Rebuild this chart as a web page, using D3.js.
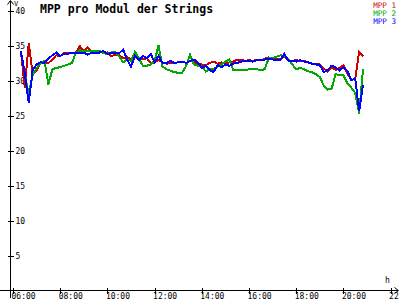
<!DOCTYPE html>
<html>
<head>
<meta charset="utf-8">
<script src="https://cdn.jsdelivr.net/npm/d3@7"></script>
<style>
  html, body { margin: 0; padding: 0; background: #fff; }
  svg { display: block; }
  text { font-family: "DejaVu Sans Mono", monospace; }
</style>
</head>
<body>
<svg id="chart" width="400" height="300"></svg>
<script>
// time stamps, every 10 minutes
const times = [
  "06:20","06:30","06:40","06:50",
  "07:00","07:10","07:20","07:30","07:40","07:50",
  "08:00","08:10","08:20","08:30","08:40","08:50",
  "09:00","09:10","09:20","09:30","09:40","09:50",
  "10:00","10:10","10:20","10:30","10:40","10:50",
  "11:00","11:10","11:20","11:30","11:40","11:50",
  "12:00","12:10","12:20","12:30","12:40","12:50",
  "13:00","13:10","13:20","13:30","13:40","13:50",
  "14:00","14:10","14:20","14:30","14:40","14:50",
  "15:00","15:10","15:20","15:30","15:40","15:50",
  "16:00","16:10","16:20","16:30","16:40","16:50",
  "17:00","17:10","17:20","17:30","17:40","17:50",
  "18:00","18:10","18:20","18:30","18:40","18:50",
  "19:00","19:10","19:20","19:30","19:40","19:50",
  "20:00","20:10","20:20","20:30","20:40","20:50"
];

// voltage per module (V)
const mpp1 = [34.2, 29.0, 35.3, 31.0, 31.4, 32.6, 32.4, 32.5, 33.0, 33.6,
  33.5, 33.9, 33.9, 34.0, 34.0, 34.9, 34.2, 34.7, 34.0, 34.0, 34.2, 33.9,
  34.0, 33.5, 33.7, 33.6, 33.2, 33.3, 33.1, 33.5, 33.3, 33.0, 33.2, 32.5,
  32.6, 32.9, 32.6, 32.4, 32.5, 32.5, 32.6, 32.7, 32.5, 32.8, 32.7, 32.4,
  32.3, 32.2, 32.5, 32.7, 32.4, 32.6, 32.4, 32.6, 32.7, 33.0, 33.0, 32.8,
  32.9, 32.8, 33.0, 32.9, 33.1, 33.3, 33.1, 33.0, 33.1, 33.4, 32.8, 32.8,
  32.9, 32.8, 32.8, 32.6, 32.4, 32.4, 32.3, 31.7, 31.3, 31.9, 31.5, 31.8,
  32.2, 31.0, 30.1, 30.2, 34.1, 33.5];

const mpp2 = [34.2, 31.0, 28.0, 30.8, 31.8, 32.4, 32.8, 29.4, 31.6, 31.8,
  31.9, 32.1, 32.3, 32.5, 34.0, 34.3, 34.2, 34.2, 34.2, 34.2, 34.2, 33.9,
  33.8, 34.0, 34.1, 33.4, 32.6, 33.0, 32.8, 34.1, 33.2, 32.1, 32.1, 32.3,
  32.8, 35.0, 32.0, 31.6, 31.4, 31.2, 31.1, 31.1, 32.1, 33.7, 32.3, 32.1,
  32.0, 31.3, 31.6, 31.6, 32.0, 32.3, 32.7, 33.0, 31.5, 31.5, 31.5, 31.5,
  31.6, 31.7, 31.6, 31.5, 31.6, 33.2, 33.2, 33.4, 33.6, 33.5, 33.1, 32.3,
  31.6, 31.8, 31.6, 31.3, 31.2, 30.9, 30.5, 29.3, 28.7, 28.8, 30.9, 30.8,
  30.8, 29.6, 29.0, 28.2, 25.3, 31.7];

const mpp3 = [34.2, 31.0, 26.8, 31.5, 32.3, 32.6, 32.5, 33.1, 33.6, 34.0,
  33.5, 33.8, 33.8, 34.0, 34.0, 34.0, 34.0, 33.7, 34.0, 34.0, 34.0, 34.2,
  33.8, 33.9, 33.9, 33.9, 34.4, 33.0, 32.0, 33.5, 32.9, 33.5, 33.2, 33.8,
  32.6, 33.5, 32.5, 32.5, 32.8, 32.5, 32.6, 32.7, 32.5, 32.8, 33.0, 32.6,
  31.8, 32.1, 31.5, 31.2, 32.2, 31.9, 32.3, 32.1, 32.4, 32.5, 32.7, 32.8,
  32.8, 32.7, 32.9, 32.9, 33.0, 33.1, 33.0, 32.9, 33.0, 33.8, 32.8, 32.8,
  32.7, 32.9, 32.7, 32.6, 32.4, 32.3, 32.2, 31.2, 31.5, 32.1, 31.9, 31.4,
  31.9, 31.4, 30.0, 30.3, 25.6, 29.4];

const seriesNames = ["MPP 1", "MPP 2", "MPP 3"];
const seriesColors = ["#cc0000", "#00a800", "#0000ff"];
const xTicks = [6, 8, 10, 12, 14, 16, 18, 20, 22];
const yTicks = [5, 10, 15, 20, 25, 30, 35, 40];

// "HH:MM" -> hours as number
function toHours(s) {
    const [h, m] = s.split(":").map(Number);
    return h + m / 60;
}

function pad(n) {
    return (n < 10 ? "0" : "") + n;
}

const svg = d3.select("#chart");

const x = d3.scaleLinear().domain([6, 22]).range([13, 390.6]);
const y = d3.scaleLinear().domain([0, 40]).range([290.5, 10.5]);

// x axis
const xAxis = svg.append("g")
    .attr("transform", "translate(0,290.5)")
    .call(d3.axisBottom(x).tickValues(xTicks).tickFormat(d => pad(d) + ":00"));
xAxis.select(".domain").remove();
xAxis.selectAll(".tick line").attr("y1", -3).attr("y2", 3)
    .attr("stroke", "#000").attr("shape-rendering", "crispEdges");
xAxis.selectAll(".tick text")
    .attr("x", -2).attr("y", 8.3).attr("dy", null)
    .attr("text-anchor", "start")
    .attr("font-size", 8)
    .attr("font-family", "DejaVu Sans Mono, monospace")
    .attr("fill", "#000");

// y axis
const yAxis = svg.append("g")
    .attr("transform", "translate(10.5,0)")
    .call(d3.axisLeft(y).tickValues(yTicks).tickFormat(d3.format("d")));
yAxis.select(".domain").remove();
yAxis.selectAll(".tick line").attr("x1", -3).attr("x2", 3)
    .attr("stroke", "#000").attr("shape-rendering", "crispEdges");
yAxis.selectAll(".tick text")
    .attr("x", 5).attr("dy", "0.35em")
    .attr("text-anchor", "start")
    .attr("font-size", 8)
    .attr("font-family", "DejaVu Sans Mono, monospace")
    .attr("fill", "#000");

// axis lines with arrows
const axisPath = svg.append("g")
    .attr("stroke", "#000")
    .attr("fill", "none")
    .attr("stroke-width", 1)
    .attr("shape-rendering", "crispEdges");
axisPath.append("line").attr("x1", 0).attr("x2", 398).attr("y1", 290.5).attr("y2", 290.5);
axisPath.append("line").attr("x1", 10.5).attr("x2", 10.5).attr("y1", 298).attr("y2", 0.5);
svg.append("path")
    .attr("d", "M394.5,287.5 L398.5,290.5 L394.5,293.5")
    .attr("stroke", "#000").attr("fill", "none");
svg.append("path")
    .attr("d", "M7.5,4.5 L10.5,0.5 L13.5,4.5")
    .attr("stroke", "#000").attr("fill", "none");

svg.append("text")
    .attr("x", 14).attr("y", 5.5)
    .attr("font-size", 7)
    .text("V");
svg.append("text")
    .attr("x", 385).attr("y", 283)
    .attr("font-size", 8)
    .text("h");

// data lines
const line = d3.line()
    .x((d, i) => x(toHours(times[i])))
    .y(d => y(d));

[mpp1, mpp2, mpp3].forEach((values, k) => {
    svg.append("path")
        .datum(values)
        .attr("d", line)
        .attr("fill", "none")
        .attr("stroke", seriesColors[k])
        .attr("stroke-width", 2)
        .attr("stroke-linejoin", "miter")
        .attr("shape-rendering", "crispEdges");
});

// title
svg.append("text")
    .attr("x", 40).attr("y", 13)
    .attr("font-size", 11.5)
    .attr("font-weight", "bold")
    .text("MPP pro Modul der Strings");

// legend
seriesNames.forEach((name, k) => {
    svg.append("text")
        .attr("x", 396).attr("y", 8 + k * 8)
        .attr("text-anchor", "end")
        .attr("font-size", 7.6)
        .attr("fill", seriesColors[k])
        .text(name);
});
</script>
</body>
</html>
